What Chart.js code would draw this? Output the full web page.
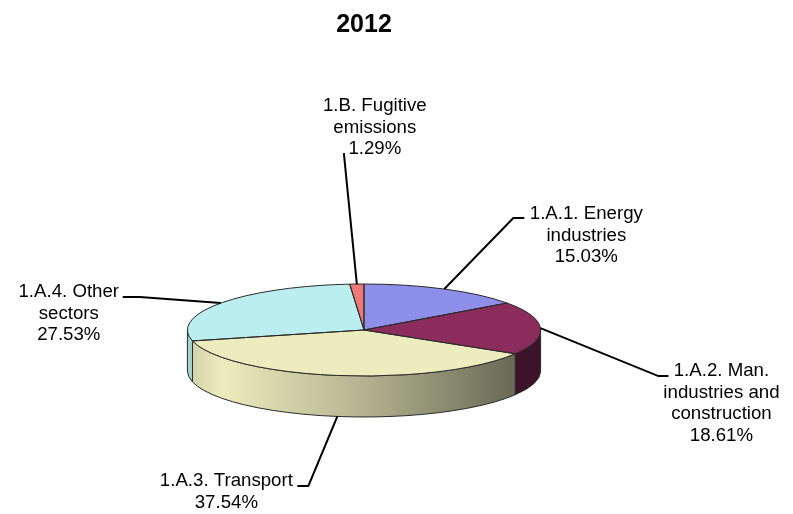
<!DOCTYPE html>
<html>
<head>
<meta charset="utf-8">
<style>html,body{margin:0;padding:0;background:#fff}canvas{display:block}</style>
<script src="https://cdn.jsdelivr.net/npm/chart.js@4"></script>
</head>
<body>
<canvas id="c" width="793" height="514"></canvas>
<script>
const chartTitle = '2012';
const categories = ['1.A.1. Energy industries','1.A.2. Man. industries and construction','1.A.3. Transport','1.A.4. Other sectors','1.B. Fugitive emissions'];
const labelLines = [['1.A.1. Energy','industries'],['1.A.2. Man.','industries and','construction'],['1.A.3. Transport'],['1.A.4. Other','sectors'],['1.B. Fugitive','emissions']];
const shares = [15.03,18.61,37.54,27.53,1.29];
const sliceColors = ['#8E8EEB','#8C2C5C','#ECECBE','#BBEEEE','#EE7777'];
const sliceRgb = [[142,142,235],[140,44,92],[236,236,190],[187,238,238],[238,119,119]];

// Presentation only: pie shape and label placement relative to each slice's edge anchor.
const pieRadius = 176.6, tilt = 46/176.6, wallDepth = 41;
const leaderBends = [[[69,-71],[80,-71]],[[118,48],[128,48]],[[-29,69.5],[-40,69.5]],[[-81,-6],[-98,-6]],[[-13,-131]]];
const textOffsets = [[142,-75],[181,43],[-111,64.5],[-152,-11],[18,-178]];
const wallShade = [[0,0.88],[0.1,1],[0.5,0.76],[0.95,0.43],[1,0.43]];
const outline = '#2a2a2a';

function wallGradient(ctx, x, rgb){
  const g = ctx.createLinearGradient(x-pieRadius,0,x+pieRadius,0);
  wallShade.forEach(([p,f])=>g.addColorStop(p,`rgb(${rgb.map(v=>Math.round(v*f)).join(',')})`));
  return g;
}
const pie3d = {
  id:'pie3d',
  beforeDatasetsDraw(chart){
    const ctx = chart.ctx, arcs = chart.getDatasetMeta(0).data;
    arcs.forEach((arc,i)=>{
      const a = Math.max(arc.startAngle,0), b = Math.min(arc.endAngle,Math.PI);
      if(b<=a) return;
      const r = arc.outerRadius, ry = r*tilt;
      ctx.save();
      ctx.beginPath();
      ctx.ellipse(arc.x,arc.y,r,ry,0,a,b);
      ctx.ellipse(arc.x,arc.y+wallDepth,r,ry,0,b,a,true);
      ctx.closePath();
      ctx.fillStyle = wallGradient(ctx,arc.x,sliceRgb[i]);
      ctx.fill();
      ctx.lineWidth = 1; ctx.strokeStyle = outline;
      ctx.stroke();
      ctx.restore();
    });
    ctx.save();
    const c = arcs[0];
    ctx.translate(c.x,c.y); ctx.scale(1,tilt); ctx.translate(-c.x,-c.y);
  },
  afterDatasetsDraw(chart){
    const ctx = chart.ctx, arcs = chart.getDatasetMeta(0).data;
    ctx.restore();
    ctx.save();
    ctx.lineWidth = 1; ctx.strokeStyle = outline;
    arcs.forEach(arc=>{
      const r = arc.outerRadius;
      ctx.beginPath();
      ctx.moveTo(arc.x,arc.y);
      ctx.ellipse(arc.x,arc.y,r,r*tilt,0,arc.startAngle,arc.endAngle);
      ctx.closePath();
      ctx.stroke();
    });
    ctx.fillStyle = '#000';
    ctx.font = '18.67px "Liberation Sans", Arial, sans-serif';
    ctx.textAlign = 'center'; ctx.textBaseline = 'middle';
    arcs.forEach((arc,i)=>{
      const mid = (arc.startAngle+arc.endAngle)/2, r = arc.outerRadius;
      const ax = arc.x+Math.cos(mid)*r;
      let ay = arc.y+Math.sin(mid)*r*tilt;
      if(Math.sin(mid)>0) ay += wallDepth;
      ctx.beginPath();
      ctx.moveTo(ax,ay);
      leaderBends[i].forEach(([dx,dy])=>ctx.lineTo(ax+dx,ay+dy));
      ctx.lineWidth = 2; ctx.strokeStyle = '#000';
      ctx.stroke();
      const lines = labelLines[i].concat(shares[i].toFixed(2)+'%');
      lines.forEach((t,k)=>ctx.fillText(t,ax+textOffsets[i][0],ay+textOffsets[i][1]+k*21.6));
    });
    ctx.restore();
  }
};

new Chart(document.getElementById('c'),{
  type:'pie',
  data:{labels:categories,datasets:[{data:shares,backgroundColor:sliceColors,borderWidth:0,radius:pieRadius}]},
  options:{
    responsive:false,animation:false,
    layout:{padding:{top:10,right:65,bottom:0,left:0}},
    plugins:{
      legend:{display:false},tooltip:{enabled:false},
      title:{display:true,text:chartTitle,fullSize:false,color:'#000',
        font:{family:'"Liberation Sans", Arial, sans-serif',size:25,weight:'bold',lineHeight:1.2},
        padding:{top:0,bottom:106}}
    }
  },
  plugins:[pie3d]
});
</script>
</body>
</html>
